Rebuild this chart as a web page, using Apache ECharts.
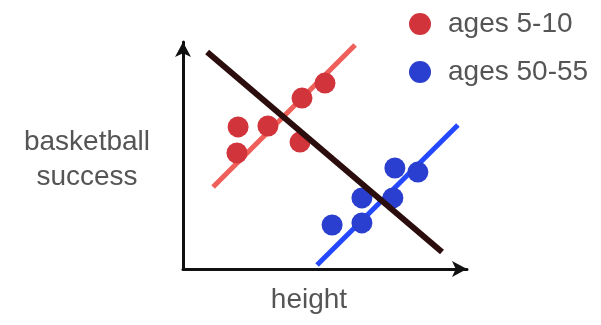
<!DOCTYPE html>
<html><head><meta charset="utf-8">
<script src="https://cdn.jsdelivr.net/npm/echarts@6/dist/echarts.min.js"></script>
<style>html,body{margin:0;padding:0;background:#fff}#c{width:601px;height:325px}</style>
</head><body><div id="c"></div>
<script>
const seriesNames = ['ages 5-10', 'ages 50-55'];
const redPoints = [[1.94, 6.26], [1.90, 5.11], [2.99, 6.30], [4.12, 5.59], [4.19, 7.53], [5.00, 8.19]];
const bluePoints = [[5.25, 1.94], [6.30, 2.03], [6.30, 3.13], [7.39, 3.13], [7.46, 4.45], [8.27, 4.27]];
const redTrend = [[1.06, 3.61], [6.06, 9.87]];
const blueTrend = [[4.72, 0.18], [9.68, 6.34]];
const overallTrend = [[0.85, 9.56], [9.12, 0.75]];
const xTitle = 'height';
const yTitle = 'basketball\nsuccess';

const chart = echarts.init(document.getElementById('c'), null, {renderer: 'canvas'});
const font = '"Liberation Sans", Arial, Helvetica, sans-serif';
const axisBase = {
  type: 'value', min: 0, max: 10,
  axisLine: {show: true, lineStyle: {color: '#111', width: 3}, symbol: ['none', 'arrow'], symbolSize: [12, 15]},
  axisTick: {show: false}, axisLabel: {show: false}, splitLine: {show: false}
};
chart.setOption({
  animation: false,
  grid: {left: 183, right: 134, top: 42, bottom: 56},
  xAxis: Object.assign({}, axisBase),
  yAxis: Object.assign({}, axisBase),
  legend: {
    data: seriesNames, orient: 'vertical', left: 404, top: 5,
    itemWidth: 22, itemHeight: 22, itemGap: 20, icon: 'circle',
    textStyle: {fontFamily: font, fontSize: 28, color: '#555', lineHeight: 26, padding: [0, 0, 0, 12]}
  },
  graphic: [
    {type: 'text', position: [87, 160], style: {text: yTitle, font: '28px ' + font, fill: '#555', textAlign: 'center', textVerticalAlign: 'middle', lineHeight: 35}},
    {type: 'text', position: [309, 300], style: {text: xTitle, font: '28px ' + font, fill: '#555', textAlign: 'center', textVerticalAlign: 'middle'}}
  ],
  series: [
    {type: 'line', data: redTrend, showSymbol: false, lineStyle: {color: '#f0605a', width: 5}, z: 1, silent: true},
    {type: 'line', data: blueTrend, showSymbol: false, lineStyle: {color: '#2448ff', width: 5}, z: 1, silent: true},
    {name: seriesNames[0], type: 'scatter', data: redPoints, symbolSize: 21, itemStyle: {color: '#d1343b', opacity: 1}, z: 2},
    {name: seriesNames[1], type: 'scatter', data: bluePoints, symbolSize: 21, itemStyle: {color: '#2a3fcf', opacity: 1}, z: 2},
    {type: 'line', data: overallTrend, showSymbol: false, lineStyle: {color: '#2b0d0d', width: 6}, z: 3, silent: true}
  ]
});
</script></body></html>
